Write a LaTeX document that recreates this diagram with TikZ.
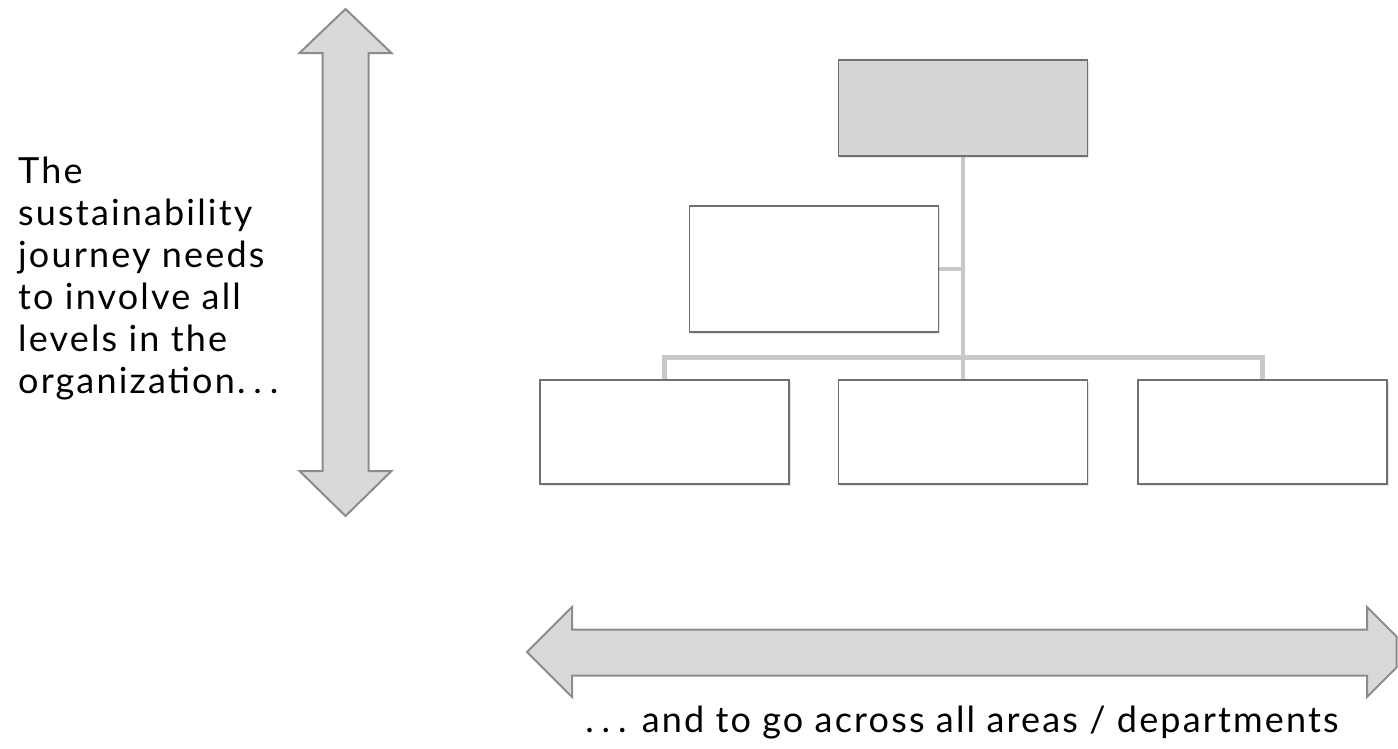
\documentclass[tikz,border=0pt]{standalone}
\usepackage{fontspec}
\setmainfont{Lato}[LetterSpace=6]
\usetikzlibrary{shadows,backgrounds}

\definecolor{boxline}{HTML}{707070}
\definecolor{boxgray}{HTML}{D6D6D6}
\definecolor{linkgray}{HTML}{C8C8C8}
\definecolor{arrowfill}{HTML}{D9D9D9}
\definecolor{arrowline}{HTML}{8C8C8C}

\newcommand{\widedots}{.\hspace{0.22em}.\hspace{0.22em}.}

\tikzset{
  orgbox/.style={draw=boxline, line width=1.2pt, fill=white, minimum width=249pt,
    minimum height=#1, inner sep=0pt,
    drop shadow={opacity=0.2, shadow xshift=1.5pt, shadow yshift=-2pt}},
  orgbox/.default=104pt,
  link/.style={draw=linkgray, line width=4.5pt},
  blockarrow/.style={draw=arrowline, fill=arrowfill, line width=2pt, line join=miter},
  caption/.style={font=\fontsize{36}{42}\selectfont, inner sep=0pt}
}

\begin{document}
\begin{tikzpicture}[x=1pt, y=-1pt]
  \useasboundingbox (0,0) rectangle (1398,748);

  % org chart
  \node[orgbox=96pt, fill=boxgray] (top)  at (963,108) {};
  \node[orgbox=126pt]              (asst) at (814,269) {};
  \node[orgbox] (b1) at (664.5,432) {};
  \node[orgbox] (b2) at (963,432) {};
  \node[orgbox] (b3) at (1262.5,432) {};

  \begin{scope}[on background layer]
    \path[link]
      (top.south) -- (b2.north)
      (asst.east) -- (asst.east -| top.south)
      (b1.north) -- ++(0,-22) -| (b3.north);
  \end{scope}

  % vertical arrow
  \draw[blockarrow] (345.5,9) -- (391.5,53) -- (368.5,53) -- (368.5,471)
    -- (391.5,471) -- (345.5,516) -- (299.5,471) -- (322.5,471)
    -- (322.5,53) -- (299.5,53) -- cycle;

  % horizontal arrow
  \draw[blockarrow] (527,652) -- (572,607) -- (572,629.5) -- (1367,629.5)
    -- (1367,607) -- (1396.5,636.5) -- (1396.5,667.5) -- (1367,697)
    -- (1367,675.5) -- (572,675.5) -- (572,697) -- cycle;

  % texts
  \node[caption, anchor=north west, align=left] (levels) at (18,157)
    {The\\sustainability\\journey needs\\to involve all\\levels in the\\organization\widedots};
  \node[caption, anchor=base] (areas) at (962,732)
    {\widedots{} and to go across all areas / departments};
\end{tikzpicture}
\end{document}
